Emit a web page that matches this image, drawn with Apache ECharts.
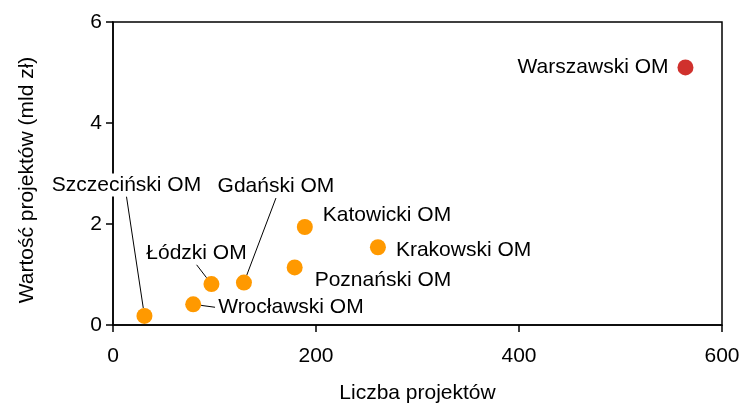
<!DOCTYPE html>
<html lang="pl">
<head>
    <meta charset="UTF-8">
    <title>Liczba i wartość projektów</title>
    <script src="https://cdn.jsdelivr.net/npm/echarts@6/dist/echarts.min.js"></script>
</head>
<body style="margin:0">
<div id="main" style="width:742px;height:405px;"></div>

<script type="text/javascript">
    // dane
    const regions = ['Warszawski OM', 'Krakowski OM', 'Katowicki OM', 'Poznański OM',
        'Gdański OM', 'Łódzki OM', 'Wrocławski OM', 'Szczeciński OM']
    const projectCount = [564, 261, 189, 179, 129, 97, 79, 31]
    const projectValue = [5.10, 1.54, 1.94, 1.14, 0.84, 0.81, 0.41, 0.18]
    const xTicks = [0, 200, 400, 600]
    const yTicks = [0, 2, 4, 6]
</script>

<script type="text/javascript">
    // rozmieszczenie etykiet względem punktu (px)
    const labelPlace = {
        'Warszawski OM': {align: 'right', offset: [-14, 0]},
        'Krakowski OM': {align: 'left', offset: [15, 3]},
        'Katowicki OM': {align: 'left', offset: [15, -12]},
        'Poznański OM': {align: 'left', offset: [17, 13]},
        'Gdański OM': {align: 'center', offset: [32, -96], line: true},
        'Łódzki OM': {align: 'center', offset: [-15, -31], line: true},
        'Wrocławski OM': {align: 'left', offset: [22, 3], line: true},
        'Szczeciński OM': {align: 'center', offset: [-18, -131], line: true}
    }

    const font = 'Liberation Sans, Arial, sans-serif'

    const myChart = echarts.init(document.getElementById('main'), null, {renderer: 'canvas'})

    const points = regions.map(function (name, i) {
        const p = labelPlace[name]
        return {
            name: name,
            value: [projectCount[i], projectValue[i]],
            itemStyle: {color: name === 'Warszawski OM' ? '#D0312D' : '#FF9900', opacity: 1},
            label: {align: p.align, offset: p.offset},
            labelLine: {show: !!p.line}
        }
    })

    const axisCommon = {
        axisLine: {show: true, lineStyle: {color: '#000', width: 1.5}},
        axisTick: {show: true, inside: false, length: 7, lineStyle: {color: '#000', width: 1.5}},
        splitLine: {show: false},
        nameLocation: 'middle',
        nameTextStyle: {color: '#000', fontSize: 21, fontFamily: font}
    }

    const option = {
        animation: false,
        textStyle: {fontFamily: font},
        grid: {
            left: 113, right: 20, top: 22, bottom: 80,
            show: true, borderColor: '#000', borderWidth: 1.5,
            containLabel: false, outerBoundsMode: 'none'
        },
        xAxis: Object.assign({}, axisCommon, {
            type: 'value',
            name: 'Liczba projektów',
            nameGap: 58,
            min: xTicks[0],
            max: xTicks[xTicks.length - 1],
            interval: xTicks[1] - xTicks[0],
            axisLabel: {color: '#000', fontSize: 21, fontFamily: font, margin: 21}
        }),
        yAxis: Object.assign({}, axisCommon, {
            type: 'value',
            name: 'Wartość projektów (mld zł)',
            nameGap: 75,
            nameTextStyle: {color: '#000', fontSize: 21, fontFamily: font, padding: [0, 13, 0, 0]},
            min: yTicks[0],
            max: yTicks[yTicks.length - 1],
            interval: yTicks[1] - yTicks[0],
            axisLabel: {color: '#000', fontSize: 21, fontFamily: font, margin: 11}
        }),
        series: [{
            type: 'scatter',
            symbolSize: 16,
            data: points,
            label: {
                show: true,
                position: 'inside',
                verticalAlign: 'middle',
                formatter: '{b}',
                color: '#000',
                fontSize: 21,
                fontFamily: font,
                backgroundColor: '#fff',
                padding: [1, 3]
            },
            labelLine: {
                lineStyle: {color: '#000', width: 1, opacity: 1}
            },
            emphasis: {disabled: true}
        }]
    }

    myChart.setOption(option)
</script>
</body>
</html>
